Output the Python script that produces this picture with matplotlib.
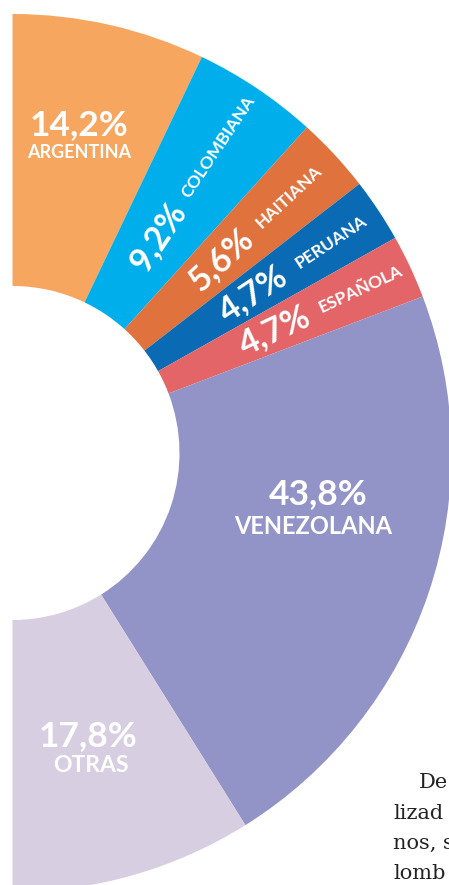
import numpy as np
import matplotlib
matplotlib.use("Agg")
import matplotlib.pyplot as plt

# ---- data ----
categories = ["ARGENTINA", "COLOMBIANA", "HAITIANA", "PERUANA", "ESPAÑOLA", "VENEZOLANA", "OTRAS"]
shares = [14.2, 9.2, 5.6, 4.7, 4.7, 43.8, 17.8]
pct_labels = ["14,2%", "9,2%", "5,6%", "4,7%", "4,7%", "43,8%", "17,8%"]
colors = ["#F7A660", "#00AEEC", "#E0733D", "#0A6BB4", "#E46567", "#9294C7", "#D7CEE2"]
body_lines = ["De", "lizad", "nos, s", "lomb"]

W, H = 449, 885
fig = plt.figure(figsize=(W / 100, H / 100), dpi=100)
ax = fig.add_axes([0, 0, 1, 1])

cx, cy = 12.5, H - 453
R_out, R_in = 439, 167

vals = np.array(shares) / 200.0  # half donut
wedges, _ = ax.pie(vals, normalize=False, colors=colors, startangle=90,
                   counterclock=False, radius=R_out, center=(cx, cy),
                   wedgeprops=dict(width=R_out - R_in, linewidth=0))
ax.set_xlim(0, W)
ax.set_ylim(0, H)
ax.set_aspect("equal")
ax.axis("off")

FONT = "Lato"
cum = np.cumsum([0] + shares)
mid = 90 - (cum[:-1] + np.array(shares) / 2) * 1.8

def pol(r, ang):
    a = np.deg2rad(ang)
    return cx + r * np.cos(a), cy + r * np.sin(a)

PCT = 25.5
# horizontal labels
ax.text(79, H - 125, pct_labels[0], color="white", fontsize=PCT, fontweight="bold",
        family=FONT, ha="center", va="center")
ax.text(79, H - 152, categories[0], color="white", fontsize=13, fontweight="bold",
        family=FONT, ha="center", va="center")

ax.text(318, H - 494, pct_labels[5], color="white", fontsize=PCT, fontweight="bold",
        family=FONT, ha="center", va="center")
ax.text(313, H - 526, categories[5], color="white", fontsize=17, fontweight="bold",
        family=FONT, ha="center", va="center")

ax.text(88, H - 736, pct_labels[6], color="white", fontsize=PCT, fontweight="bold",
        family=FONT, ha="center", va="center")
ax.text(91, H - 765, categories[6], color="white", fontsize=16.5, fontweight="bold",
        family=FONT, ha="center", va="center")

# rotated labels
pct_r = [None, 261, 284, 288, 289]
name_r = [None, 369, 377, 382, 385]
for i in range(1, 5):
    ang = mid[i]
    x, y = pol(pct_r[i], ang)
    ax.text(x, y, pct_labels[i], color="white", fontsize=24.5, fontweight="bold",
            family=FONT, ha="center", va="center", rotation=ang,
            rotation_mode="anchor")
    x, y = pol(name_r[i], ang)
    ax.text(x, y, categories[i], color="white", fontsize=12.5, fontweight="bold",
            family=FONT, ha="center", va="center", rotation=ang,
            rotation_mode="anchor")

# body text fragment
body_pos = [(419, 788), (393, 819), (393, 849), (393, 879)]
for (bx, by), t in zip(body_pos, body_lines):
    ax.text(bx, H - by, t, color="#222222", fontsize=15, family="DejaVu Serif",
            ha="left", va="baseline")

fig.savefig("out.png", dpi=100)
